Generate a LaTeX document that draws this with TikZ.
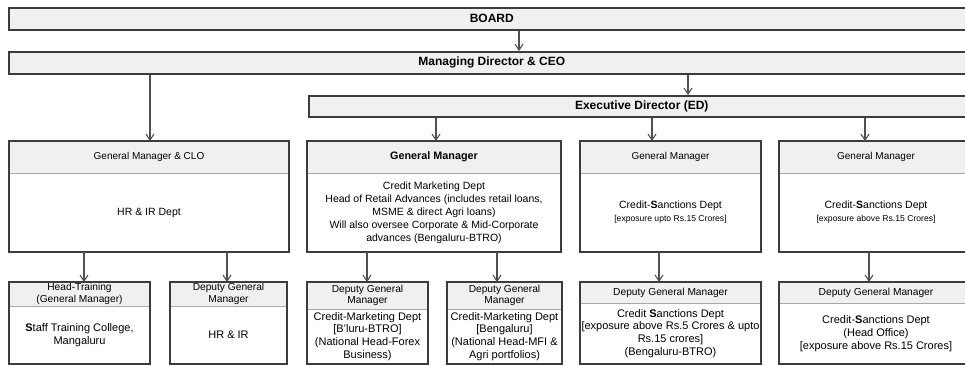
\documentclass[tikz,border=0pt]{standalone}
\usepackage{fontspec}
\setmainfont{Liberation Sans}
\usetikzlibrary{positioning,arrows.meta}
\definecolor{hdrgray}{HTML}{F0F0F0}
\definecolor{edgegray}{HTML}{3C3C3C}
\definecolor{sepgray}{HTML}{A8A8A8}
\definecolor{conngray}{HTML}{505050}
\begin{document}
\begin{tikzpicture}[x=1pt,y=-1pt,
	topbox/.style={fill=hdrgray,draw=edgegray,line width=1.5pt,anchor=north west,inner sep=0pt,
		font=\fontsize{12}{14}\selectfont\bfseries},
	hdr/.style={fill=hdrgray,anchor=north west,inner sep=0pt,outer sep=0pt,align=center},
	body/.style={fill=white,inner sep=0pt,outer sep=0pt,align=center},
	hdrthree/.style={hdr,minimum height=32pt,font=\fontsize{10}{12}\selectfont},
	bodythree/.style={body,minimum height=79pt,font=\fontsize{10.5}{13}\selectfont},
	hdrfour/.style={hdr,font=\fontsize{10.2}{11.5}\selectfont},
	bodyfour/.style={body,font=\fontsize{11}{12.8}\selectfont},
	boxline/.style={draw=edgegray,line width=1.5pt},
	sepline/.style={draw=sepgray,line width=0.9pt},
	conn/.style={color=conngray,line width=1.1pt,-{Straight Barb[length=6pt,width=8pt]}}]
	\useasboundingbox (0,0) rectangle (965,365);
	
	% top rows
	\node[topbox,minimum width=966pt,minimum height=22pt] (board) at (8,7) {BOARD};
	\node[topbox,minimum width=966pt,minimum height=22pt] (md) at (8,51) {Managing Director \& CEO};
	\node[topbox,minimum width=666pt,minimum height=21pt] (ed) at (308,95) {Executive Director (ED)};
	
	% general managers
	\node[hdrthree,minimum width=280pt] (gmclo-h) at (9,141) {General Manager \& CLO};
	\node[bodythree,minimum width=280pt,below=0pt of gmclo-h] (gmclo) {HR \& IR Dept};
	
	\node[hdrthree,minimum width=254pt,font=\fontsize{10.8}{13}\selectfont\bfseries] (gmcm-h) at (307,141) {General Manager};
	\node[bodythree,minimum width=254pt,below=0pt of gmcm-h] (gmcm) {Credit Marketing Dept\\
		Head of Retail Advances (includes retail loans,\\
		MSME \& direct Agri loans)\\
		Will also oversee Corporate \& Mid-Corporate\\
		advances (Bengaluru-BTRO)};
	
	\node[hdrthree,minimum width=181pt] (gmcs-h) at (580,141) {General Manager};
	\node[bodythree,minimum width=181pt,below=0pt of gmcs-h] (gmcs) {Credit-\textbf{S}anctions Dept\\
		{\fontsize{8.6}{10}\selectfont [exposure upto Rs.15 Crores]}};
	
	\node[hdrthree,minimum width=194pt] (gmcsh-h) at (779,141) {General Manager};
	\node[bodythree,minimum width=194pt,below=0pt of gmcsh-h] (gmcsh) {Credit-\textbf{S}anctions Dept\\
		{\fontsize{8.6}{10}\selectfont [exposure above Rs.15 Crores]}};
	
	% deputy general managers
	\node[hdrfour,minimum width=141pt,minimum height=24pt] (hdtr-h) at (9,282) {Head-Training\\(General Manager)};
	\node[bodyfour,minimum width=141pt,minimum height=58pt,below=0pt of hdtr-h] (hdtr) {\textbf{S}taff Training College,\\Mangaluru};
	
	\node[hdrfour,minimum width=117pt,minimum height=24pt] (dgmhr-h) at (170,282) {Deputy General\\Manager};
	\node[bodyfour,minimum width=117pt,minimum height=58pt,below=0pt of dgmhr-h] (dgmhr) {HR \& IR};
	
	\node[hdrfour,minimum width=121pt,minimum height=27pt] (dgmfx-h) at (307,282) {Deputy General\\Manager};
	\node[bodyfour,minimum width=121pt,minimum height=55pt,below=0pt of dgmfx-h] (dgmfx) {Credit-Marketing Dept\\
		{[B'luru-BTRO]}\\(National Head-Forex\\Business)};
	
	\node[hdrfour,minimum width=115pt,minimum height=27pt] (dgmmfi-h) at (447,282) {Deputy General\\Manager};
	\node[bodyfour,minimum width=115pt,minimum height=55pt,below=0pt of dgmmfi-h] (dgmmfi) {Credit-Marketing Dept\\
		{[Bengaluru]}\\(National Head-MFI \&\\Agri portfolios)};
	
	\node[hdrfour,minimum width=181pt,minimum height=21pt] (dgmcs-h) at (580,282) {Deputy General Manager};
	\node[bodyfour,minimum width=181pt,minimum height=61pt,below=0pt of dgmcs-h] (dgmcs) {Credit \textbf{S}anctions Dept\\
		{[exposure above Rs.5 Crores \& upto}\\Rs.15 crores]\\(Bengaluru-BTRO)};
	
	\node[hdrfour,minimum width=194pt,minimum height=21pt] (dgmho-h) at (779,282) {Deputy General Manager};
	\node[bodyfour,minimum width=194pt,minimum height=61pt,below=0pt of dgmho-h] (dgmho) {Credit-\textbf{S}anctions Dept\\
		(Head Office)\\{[exposure above Rs.15 Crores]}};
	
	\foreach \b in {gmclo,gmcm,gmcs,gmcsh,hdtr,dgmhr,dgmfx,dgmmfi,dgmcs,dgmho} {
		\draw[sepline] (\b-h.south west) -- (\b-h.south east);
		\draw[boxline] (\b-h.north west) rectangle (\b.south east);
	}
	
	% where the connectors leave
	\coordinate (a0) at (519,0);
	\coordinate (a1) at (688,0);
	\coordinate (a2) at (150,0);
	\coordinate (a3) at (436,0);
	\coordinate (a4) at (652,0);
	\coordinate (a5) at (865,0);
	\coordinate (b1) at (84,0);
	\coordinate (b2) at (227,0);
	\coordinate (b3) at (367,0);
	\coordinate (b4) at (497,0);
	\coordinate (b5) at (659,0);
	\coordinate (b6) at (869,0);
	
	\path[conn]
	(board.south -| a0) edge (md.north -| a0)
	(md.south -| a1) edge (ed.north -| a1)
	(md.south -| a2) edge (gmclo-h.north -| a2)
	(ed.south -| a3) edge (gmcm-h.north -| a3)
	(ed.south -| a4) edge (gmcs-h.north -| a4)
	(ed.south -| a5) edge (gmcsh-h.north -| a5)
	(gmclo.south -| b1) edge (hdtr-h.north -| b1)
	(gmclo.south -| b2) edge (dgmhr-h.north -| b2)
	(gmcm.south -| b3) edge (dgmfx-h.north -| b3)
	(gmcm.south -| b4) edge (dgmmfi-h.north -| b4)
	(gmcs.south -| b5) edge (dgmcs-h.north -| b5)
	(gmcsh.south -| b6) edge (dgmho-h.north -| b6);
\end{tikzpicture}
\end{document}
